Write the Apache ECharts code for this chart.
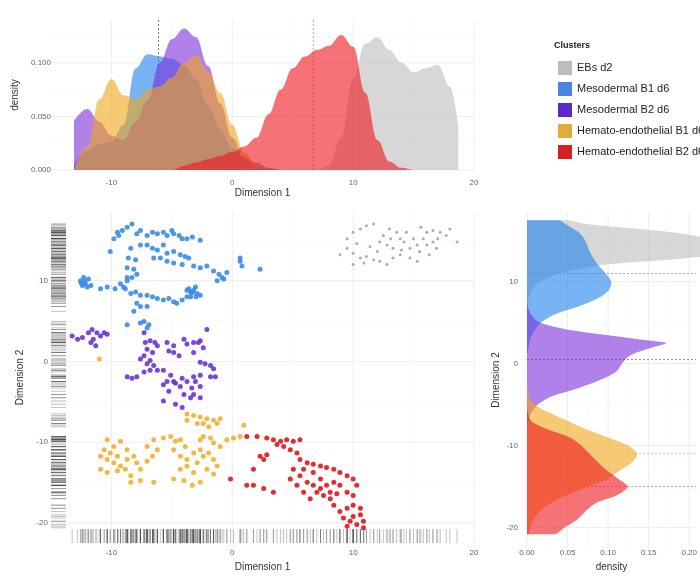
<!DOCTYPE html>
<html>
<head>
<meta charset="utf-8">
<script src="https://cdn.jsdelivr.net/npm/echarts@6/dist/echarts.min.js"></script>
<style>
  html, body { margin: 0; padding: 0; background: #ffffff; }
  #chart { width: 700px; height: 577px; }
</style>
</head>
<body>
<div id="chart"></div>
<script>
// ---- clusters ----
const clusterNames = ['EBs d2', 'Mesodermal B1 d6', 'Mesodermal B2 d6', 'Hemato-endothelial B1 d6', 'Hemato-endothelial B2 d6'];

// ---- embedding coordinates (Dimension 1, Dimension 2) per cluster ----
const ptsEBs = [[8.9,13.2],[9.5,15.2],[10.0,16.0],[10.6,16.4],[11.1,16.8],[11.7,17.0],[9.5,14.0],[10.0,13.4],[10.6,12.8],[11.1,13.0],[11.7,12.6],[10.0,12.0],[12.2,14.8],[12.8,14.4],[13.3,14.0],[12.5,15.6],[13.1,15.2],[13.6,16.0],[13.9,15.2],[14.2,14.8],[14.4,16.0],[15.0,15.2],[15.3,14.4],[15.5,13.6],[14.7,14.0],[13.9,13.2],[13.3,12.8],[12.2,12.4],[16.1,16.0],[16.6,16.2],[17.2,16.0],[17.7,15.6],[16.6,14.8],[16.9,14.0],[16.1,14.4],[18.0,16.4],[18.6,14.8],[15.8,15.2],[15.3,12.4],[14.7,12.8],[12.8,12.0],[10.9,12.2],[11.4,14.2],[12.0,13.6],[14.0,13.8],[17.0,15.2],[16.3,13.2],[10.3,14.6],[13.0,16.4],[15.6,16.6]];

const ptsMesoB1 = [[-9.5,16.0],[-9.1,16.2],[-8.7,16.6],[-8.3,17.0],[-7.9,15.8],[-7.6,16.2],[-7.05,15.6],[-6.6,16.0],[-6.2,15.8],[-5.7,16.0],[-5.4,15.6],[-5.0,16.2],[-4.85,15.8],[-4.4,15.6],[-4.15,15.2],[-3.75,15.2],[-3.3,15.4],[-2.65,15.0],[-9.8,15.2],[-9.4,15.6],
  [-10.1,13.6],[-8.4,14.0],[-7.6,14.4],[-7.05,14.4],[-6.6,14.0],[-6.2,13.8],[-5.7,14.4],[-5.4,13.4],[-4.85,13.6],[-4.3,13.2],[-3.9,13.0],[-3.6,12.8],[-8.6,12.8],[-8.0,12.6],[-6.5,12.8],[-5.95,12.8],[-5.4,12.4],[-4.85,12.2],[-4.15,12.0],
  [-8.7,11.6],[-8.15,11.4],[-8.3,10.4],[-7.9,10.8],[-8.7,10.0],[-9.0,9.2],[-8.7,10.4],
  [-3.2,11.8],[-2.65,11.6],[-2.1,11.8],[-1.55,11.2],[-1.1,10.8],[-0.85,10.4],[-0.45,11.0],[0.65,12.4],[0.8,11.8],[0.65,12.8],[2.3,11.4],[-1.25,10.0],[-0.7,10.2],
  [-12.56,10.0],[-12.3,10.4],[-12.15,9.6],[-11.9,10.2],[-11.7,9.4],[-12.4,9.4],[-12.0,9.2],[-12.2,9.9],[-12.5,9.7],
  [-10.9,9.0],[-10.35,9.2],[-9.7,9.0],[-9.25,9.6],[-8.85,9.0],[-8.4,8.4],[-8.0,8.6],[-7.6,8.2],[-7.05,8.2],[-6.6,8.0],[-6.2,7.8],[-5.7,7.6],[-5.25,7.8],[-4.85,7.4],[-4.6,7.2],[-4.15,7.6],[-3.75,8.0],[-3.45,8.6],[-3.2,8.8],[-2.9,8.4],[-2.65,8.2],[-3.45,8.0],[-3.05,9.2],[-3.75,8.8],[-3.3,8.5],[-3.0,8.0],[-3.6,9.0],
  [-7.9,7.2],[-7.6,6.8],[-8.15,6.2],[-7.05,6.8],[-8.7,4.55],[-7.6,4.75],[-7.3,4.95],[-6.9,4.55],[-7.05,4.15]];

const ptsMesoB2 = [[-13.25,3.15],[-12.8,2.75],[-12.4,2.95],[-11.9,3.55],[-11.6,3.95],[-11.2,3.55],[-10.9,3.15],[-11.5,2.75],[-11.7,2.35],[-11.3,1.95],[-10.6,3.55],[-10.35,3.35],
  [-7.3,3.55],[-7.2,2.35],[-6.8,2.55],[-6.4,2.35],[-7.05,1.5],[-6.6,1.1],[-6.2,1.95],[-5.4,2.35],[-4.85,1.95],[-5.25,1.3],[-4.85,1.1],[-4.4,0.7],[-4.0,2.75],[-3.75,2.15],[-3.2,2.35],[-2.8,2.35],[-2.65,2.55],[-2.4,1.7],[-2.1,3.95],[-3.2,1.1],
  [-2.65,-0.1],[-2.25,-0.3],[-1.8,-0.5],[-1.55,-0.9],[-1.4,-1.9],[-1.8,-1.9],[-2.65,-1.7],[-3.2,-1.9],[-3.05,-2.5],[-2.65,-3.1],[-3.35,-3.3],[-3.75,-2.5],[-4.15,-2.1],[-4.85,-2.5],[-5.4,-2.5],[-5.1,-1.7],[-5.7,-1.1],[-6.2,-1.1],[-6.8,-1.1],[-7.3,-1.3],[-7.05,-0.3],[-7.6,0.3],[-7.3,0.7],[-6.8,0.1],[-6.5,-0.5],
  [-8.7,-1.9],[-8.3,-2.1],[-7.9,-1.9],[-5.7,-2.9],[-5.25,-3.7],[-4.7,-2.7],[-4.3,-3.1],[-4.0,-4.1],[-3.45,-4.5],[-3.2,-4.1],[-2.65,-4.5],[-4.7,-5.3],[-4.15,-5.7],[-5.7,-4.9]];

const ptsHematoB1 = [[-3.75,-6.5],[-3.2,-6.7],[-2.65,-6.9],[-2.1,-7.1],[-1.55,-7.3],[-1.0,-7.1],[-2.9,-7.7],[-2.4,-7.7],[-1.95,-8.1],[-1.25,-7.7],[-3.75,-7.3],[-11.0,0.3],
  [-10.35,-9.7],[-9.8,-10.55],[-9.25,-9.9],[-8.7,-10.95],[-10.9,-11.75],[-10.35,-12.15],[-9.8,-12.55],[-9.5,-11.75],[-9.25,-12.95],[-8.7,-12.15],[-8.15,-11.75],[-7.9,-12.55],[-10.9,-13.35],[-10.35,-13.75],[-9.5,-13.55],[-8.85,-13.35],[-8.4,-14.15],[-7.6,-13.35],[-7.05,-12.35],[-6.6,-11.75],[-6.2,-10.95],[-7.05,-10.55],[-6.5,-9.7],[-5.7,-9.5],[-10.6,-10.95],[-10.1,-11.35],[-6.5,-14.95],[-7.6,-14.75],[-8.4,-14.95],
  [-5.1,-9.3],[-4.7,-9.9],[-4.3,-9.7],[-3.9,-10.55],[-4.85,-10.95],[-4.3,-11.75],[-3.75,-12.15],[-3.2,-11.35],[-2.65,-9.7],[-2.4,-9.3],[-1.8,-9.5],[-1.55,-10.1],[-2.65,-10.95],[-2.4,-11.75],[-1.95,-11.35],[-1.55,-12.15],[-2.9,-12.55],[-3.75,-12.95],[-4.3,-13.35],[-3.2,-13.75],[-2.1,-13.35],[-1.25,-12.95],[-1.0,-10.55],[-0.45,-9.7],[0.1,-9.5],[0.65,-9.3],[0.95,-7.9],[-1.55,-13.95],[-4.85,-14.55],[-4.0,-14.75],[-2.65,-14.95],[-3.3,-15.35]];

const ptsHematoB2 = [[1.2,-9.3],[2.05,-9.3],[2.85,-9.5],[3.4,-9.7],[4.0,-9.9],[4.5,-9.7],[5.05,-9.9],[5.6,-9.7],[3.7,-10.3],[4.25,-10.55],[4.8,-10.95],[5.35,-11.35],[5.6,-12.15],[6.2,-12.55],[6.7,-12.75],[7.3,-12.95],[7.8,-13.15],[8.4,-13.35],[8.9,-13.75],[9.5,-14.15],[10.0,-14.55],[10.3,-15.35],
  [2.3,-11.75],[2.85,-11.55],[2.6,-12.15],[1.75,-13.35],[1.2,-15.35],[-0.15,-14.55],[1.75,-15.35],[2.6,-15.75],[3.4,-16.2],[5.05,-13.35],[5.6,-14.15],[6.2,-14.95],[6.7,-15.35],[7.3,-15.75],[7.8,-15.35],[8.4,-14.95],[8.9,-15.35],[9.5,-16.2],[10.0,-16.6],
  [4.8,-14.55],[5.35,-15.35],[5.9,-16.2],[6.45,-17.0],[7.0,-16.2],[7.55,-16.6],[8.1,-17.0],[8.4,-17.8],[8.9,-18.6],[9.5,-18.2],[10.0,-17.8],[10.6,-18.2],[9.2,-19.4],[9.75,-19.8],[10.3,-20.2],[10.85,-19.8],[10.6,-19.0],[9.5,-20.4],[10.0,-19.2],[10.85,-20.6],[8.1,-16.2],[8.65,-16.4],[7.3,-14.55],[6.7,-13.75],[5.9,-13.35]];

// ---- per-cluster density along Dimension 1 (top panel) ----
const dim1Grid        = [-13.1,-12,-11,-10,-9,-8,-7,-6,-5,-4,-3,-2,-1,0,1,2,3,4,5,6,7,8,9,10,11,12,13,14,15,16,17,18,18.7];
const dens1EBs        = [0,0,0,0,0,0,0,0,0,0,0,0,0,0,0,0,0,0,0,0,0,0.004,0.03,0.085,0.118,0.124,0.112,0.1,0.091,0.095,0.098,0.078,0.04];
const dens1MesoB1     = [0.005,0.018,0.024,0.026,0.042,0.095,0.108,0.106,0.104,0.098,0.085,0.06,0.038,0.02,0.012,0.007,0.002,0,0,0,0,0,0,0,0,0,0,0,0,0,0,0,0];
const dens1MesoB2     = [0.046,0.057,0.045,0.032,0.028,0.045,0.065,0.1,0.122,0.132,0.124,0.097,0.062,0.03,0.01,0.003,0.001,0,0,0,0,0,0,0,0,0,0,0,0,0,0,0,0];
const dens1HematoB1   = [0,0.022,0.066,0.085,0.07,0.066,0.075,0.078,0.086,0.1,0.107,0.092,0.072,0.042,0.016,0.005,0.001,0,0,0,0,0,0,0,0,0,0,0,0,0,0,0,0];
const dens1HematoB2   = [0,0,0,0,0,0,0,0,0,0.004,0.007,0.01,0.013,0.017,0.022,0.03,0.052,0.075,0.095,0.106,0.112,0.116,0.126,0.115,0.072,0.028,0.008,0.002,0,0,0,0,0];

// ---- per-cluster density along Dimension 2 (right panel) ----
const dim2Grid        = [-20.8,-20,-19,-18,-17,-16,-15,-14,-13,-12,-11,-10,-9,-8,-7,-6,-5,-4,-3,-2,-1,0,1,2,2.5,3,4,5,6,7,8,9,10,11,12,13,14,15,16,17,17.5];
const dens2EBs        = [0,0,0,0,0,0,0,0,0,0,0,0,0,0,0,0,0,0,0,0,0,0,0,0,0,0,0,0,0,0,0.002,0.006,0.016,0.04,0.09,0.21,0.25,0.235,0.18,0.075,0.05];
const dens2MesoB1     = [0,0,0,0,0,0,0,0,0,0,0,0,0,0,0,0,0,0,0,0,0,0,0,0.002,0.003,0.004,0.009,0.017,0.034,0.064,0.088,0.101,0.104,0.097,0.088,0.081,0.076,0.072,0.064,0.048,0.04];
const dens2MesoB2     = [0,0,0,0,0,0,0,0,0,0,0,0,0,0,0.002,0.005,0.013,0.03,0.063,0.09,0.11,0.117,0.127,0.155,0.172,0.135,0.06,0.016,0.005,0.001,0,0,0,0,0,0,0,0,0,0,0];
const dens2HematoB1   = [0.002,0.004,0.008,0.016,0.03,0.05,0.075,0.1,0.115,0.13,0.136,0.125,0.1,0.073,0.05,0.028,0.01,0.003,0.001,0,0,0,0,0,0,0,0,0,0,0,0,0,0,0,0,0,0,0,0,0,0];
const dens2HematoB2   = [0.035,0.046,0.062,0.072,0.085,0.112,0.124,0.112,0.098,0.087,0.077,0.067,0.053,0.025,0.005,0.001,0,0,0,0,0,0,0,0,0,0,0,0,0,0,0,0,0,0,0,0,0,0,0,0,0];

// ---- dashed reference positions ----
const dim1Marks = [-6.1, 6.7];
const dim2Marks = [11.0, 0.5, -10.95, -15.0];

// ---- axis breaks ----
const dim1Major = [-10, 0, 10, 20];
const dim1Minor = [-5, 5, 15];
const dim2Major = [-20, -10, 0, 10];
const dim2Minor = [-15, -5, 5, 15];
const dens1Major = [0, 0.05, 0.1];
const dens1Minor = [0.025, 0.075, 0.125];
const dens2Major = [0, 0.05, 0.1, 0.15, 0.2];
const dens2Minor = [0.025, 0.075, 0.125, 0.175];

// ---- styling ----
const FONT = 'Liberation Sans';
const pointColors = ['#9c9c9c', '#3b8be6', '#6a34d4', '#efb02e', '#e0141c'];
const fillColors = ['rgba(190,190,190,0.62)', 'rgba(30,130,235,0.6)', 'rgba(125,45,220,0.6)', 'rgba(240,165,25,0.6)', 'rgba(238,20,28,0.6)'];
const legendColors = ['#bdbdbd', '#4a86e0', '#5a2bc8', '#e2ac3a', '#d42020'];
const mark1Colors = ['#66667a', '#f08090'];
const mark2Colors = ['#8fa3c7', '#8a8a9a', '#f3c98a', '#f08a8a'];

const allPoints = [ptsEBs, ptsMesoB1, ptsMesoB2, ptsHematoB1, ptsHematoB2];
const dens1All = [dens1EBs, dens1MesoB1, dens1MesoB2, dens1HematoB1, dens1HematoB2];
const dens2All = [dens2EBs, dens2MesoB1, dens2MesoB2, dens2HematoB1, dens2HematoB2];
const rugPoints = [].concat(...allPoints);

const chart = echarts.init(document.getElementById('chart'), null, { renderer: 'canvas' });

// light panel grid lines (major + minor), drawn through the axes of one grid
function gridLines(idx, xMajor, xMinor, yMajor, yMinor) {
  const rows = [];
  xMajor.forEach(v => rows.push([v, 0]));
  xMinor.forEach(v => rows.push([v, 1]));
  yMajor.forEach(v => rows.push([v, 2]));
  yMinor.forEach(v => rows.push([v, 3]));
  return {
    type: 'custom', xAxisIndex: idx, yAxisIndex: idx, silent: true, z: 0,
    data: rows,
    renderItem(params, api) {
      const cs = params.coordSys;
      const v = api.value(0), kind = api.value(1);
      const major = kind === 0 || kind === 2;
      const style = { stroke: major ? '#e8e8e8' : '#f3f3f3', lineWidth: major ? 0.8 : 0.5 };
      if (kind < 2) {
        const x = api.coord([v, 0])[0];
        return { type: 'line', shape: { x1: x, y1: cs.y, x2: x, y2: cs.y + cs.height }, style };
      }
      const y = api.coord([0, v])[1];
      return { type: 'line', shape: { x1: cs.x, y1: y, x2: cs.x + cs.width, y2: y }, style };
    }
  };
}

// dashed reference lines
function dashLines(idx, values, colors, vertical) {
  return {
    type: 'custom', xAxisIndex: idx, yAxisIndex: idx, silent: true, z: 1,
    data: values.map((v, i) => [v, i]),
    renderItem(params, api) {
      const cs = params.coordSys;
      const v = api.value(0), i = api.value(1);
      const style = { stroke: colors[i], lineWidth: 0.9, lineDash: [2, 2] };
      if (vertical) {
        const x = api.coord([v, 0])[0];
        return { type: 'line', shape: { x1: x, y1: cs.y, x2: x, y2: cs.y + cs.height }, style };
      }
      const y = api.coord([0, v])[1];
      return { type: 'line', shape: { x1: cs.x, y1: y, x2: cs.x + cs.width, y2: y }, style };
    }
  };
}

// horizontal density area (density on x, Dimension 2 on y)
function sideDensity(i) {
  const dens = dens2All[i];
  return {
    type: 'custom', name: clusterNames[i], xAxisIndex: 2, yAxisIndex: 2, silent: true, z: 2,
    data: dim2Grid.map((y, j) => [dens[j], y]),
    renderItem(params, api) {
      if (params.dataIndex !== 0) return null;
      const pts = dim2Grid.map((y, j) => api.coord([dens[j], y]));
      const start = api.coord([0, dim2Grid[0]]);
      const end = api.coord([0, dim2Grid[dim2Grid.length - 1]]);
      return {
        type: 'polygon',
        shape: { points: [start].concat(pts, [end]), smooth: 0.3, smoothConstraint: [start, start] },
        style: { fill: fillColors[i] }
      };
    }
  };
}

// rug marks along the scatter panel edges
function rug(onX) {
  return {
    type: 'custom', xAxisIndex: 1, yAxisIndex: 1, silent: true, z: 2,
    data: rugPoints,
    renderItem(params, api) {
      const cs = params.coordSys;
      const p = api.coord([api.value(0), api.value(1)]);
      const style = { stroke: 'rgba(70,70,70,0.33)', lineWidth: 1 };
      if (onX) {
        return { type: 'line', shape: { x1: p[0], y1: cs.y + cs.height - 14, x2: p[0], y2: cs.y + cs.height }, style };
      }
      return { type: 'line', shape: { x1: cs.x, y1: p[1], x2: cs.x + 15, y2: p[1] }, style };
    }
  };
}

const tickLabel = { fontSize: 8, color: '#666', fontFamily: FONT };
const titleStyle = { fontSize: 10, color: '#333', fontFamily: FONT };
const hidden = { axisLine: { show: false }, axisTick: { show: false }, splitLine: { show: false } };
const isMultiple = (v, step) => Math.abs(v / step - Math.round(v / step)) < 1e-6;

const series = [
  gridLines(0, dim1Major, dim1Minor, dens1Major, dens1Minor),
  gridLines(1, dim1Major, dim1Minor, dim2Major, dim2Minor),
  gridLines(2, dens2Major, dens2Minor, dim2Major, dim2Minor),
  dashLines(0, dim1Marks, mark1Colors, true),
  dashLines(2, dim2Marks, mark2Colors, false)
];

dens1All.forEach((dens, i) => {
  series.push({
    type: 'line', name: clusterNames[i], xAxisIndex: 0, yAxisIndex: 0, silent: true, z: 2,
    data: dim1Grid.map((x, j) => [x, dens[j]]),
    smooth: 0.4, smoothMonotone: 'x', symbol: 'none',
    lineStyle: { width: 0 },
    areaStyle: { color: fillColors[i], opacity: 1 }
  });
});

for (let i = 0; i < 5; i++) series.push(sideDensity(i));

series.push(rug(true), rug(false));

allPoints.forEach((pts, i) => {
  series.push({
    type: 'scatter', name: clusterNames[i], xAxisIndex: 1, yAxisIndex: 1, silent: true, z: 3,
    data: pts,
    symbolSize: i === 0 ? 3 : 5,
    itemStyle: { color: pointColors[i], opacity: i === 0 ? 0.85 : 0.9 }
  });
});

chart.setOption({
  animation: false,
  backgroundColor: '#ffffff',
  textStyle: { fontFamily: FONT },
  title: {
    text: 'Clusters', left: 549, top: 36,
    textStyle: { fontSize: 9, fontWeight: 'bold', color: '#222', fontFamily: FONT }
  },
  legend: {
    orient: 'vertical', left: 553, top: 56,
    itemWidth: 14, itemHeight: 14, itemGap: 7, icon: 'rect',
    selectedMode: false,
    textStyle: { fontSize: 11, color: '#222', fontFamily: FONT },
    data: clusterNames.map((n, i) => ({ name: n, itemStyle: { color: legendColors[i] } }))
  },
  grid: [
    { left: 51, right: 226, top: 20, bottom: 407 },
    { left: 51, right: 226, top: 212, bottom: 25 },
    { left: 527, right: 0, top: 212, bottom: 25 }
  ],
  xAxis: [
    Object.assign({
      gridIndex: 0, type: 'value', min: -15, max: 20,
      axisLabel: Object.assign({ margin: 9, customValues: dim1Major, formatter: v => isMultiple(v, 10) ? String(v) : '' }, tickLabel),
      name: 'Dimension 1', nameLocation: 'middle', nameGap: 18, nameTextStyle: titleStyle
    }, hidden),
    Object.assign({
      gridIndex: 1, type: 'value', min: -15, max: 20,
      axisLabel: Object.assign({ margin: 6, customValues: dim1Major, formatter: v => isMultiple(v, 10) ? String(v) : '' }, tickLabel),
      name: 'Dimension 1', nameLocation: 'middle', nameGap: 16, nameTextStyle: titleStyle
    }, hidden),
    Object.assign({
      gridIndex: 2, type: 'value', min: 0, max: 0.2084,
      axisLabel: Object.assign({ margin: 1, customValues: dens2Major, formatter: v => isMultiple(v, 0.05) ? v.toFixed(2) : '' }, tickLabel),
      name: 'density', nameLocation: 'middle', nameGap: 13, nameTextStyle: titleStyle
    }, hidden)
  ],
  yAxis: [
    Object.assign({
      gridIndex: 0, type: 'value', min: 0, max: 0.14,
      axisLabel: Object.assign({ margin: 0, customValues: dens1Major, formatter: v => isMultiple(v, 0.05) ? v.toFixed(3) : '' }, tickLabel),
      name: 'density', nameLocation: 'middle', nameGap: 23, nameTextStyle: titleStyle
    }, hidden),
    Object.assign({
      gridIndex: 1, type: 'value', min: -22.5, max: 18.5,
      axisLabel: Object.assign({ margin: 3, customValues: dim2Major, formatter: v => isMultiple(v, 10) ? String(v) : '' }, tickLabel),
      name: 'Dimension 2', nameLocation: 'middle', nameGap: 24, nameTextStyle: titleStyle
    }, hidden),
    Object.assign({
      gridIndex: 2, type: 'value', min: -22.5, max: 18.5,
      axisLabel: Object.assign({ margin: 9, customValues: dim2Major, formatter: v => isMultiple(v, 10) ? String(v) : '' }, tickLabel),
      name: 'Dimension 2', nameLocation: 'middle', nameGap: 26, nameTextStyle: titleStyle
    }, hidden)
  ],
  series
});
</script>
</body>
</html>
